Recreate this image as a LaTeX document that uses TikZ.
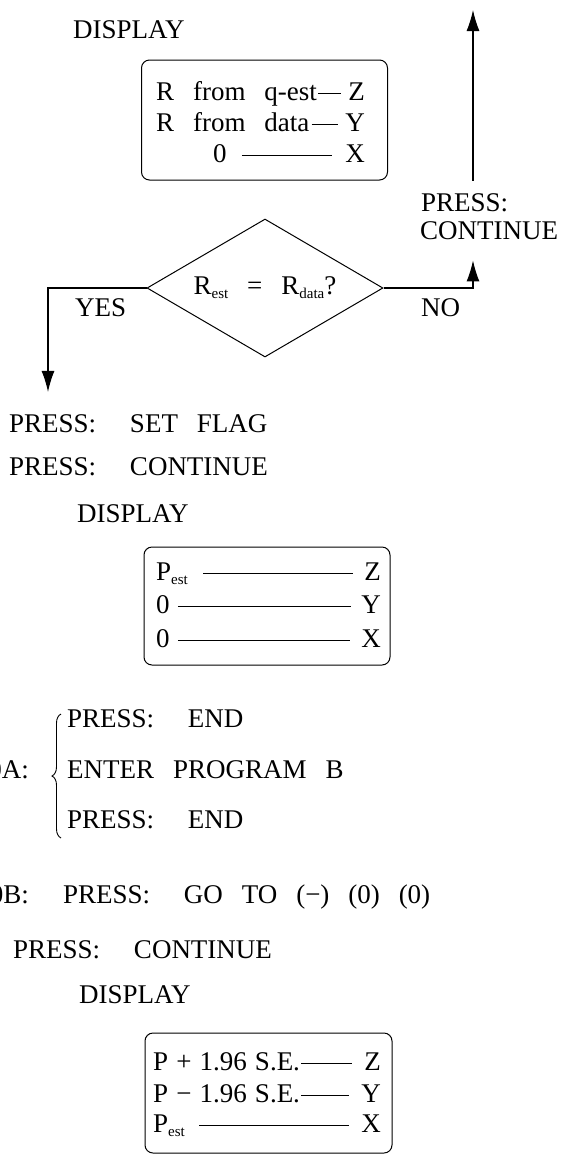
\documentclass[tikz,border=0pt]{standalone}
\usepackage{fontspec}
\setmainfont[WordSpace=2.8]{Liberation Serif}
\usetikzlibrary{arrows.meta, shapes.geometric, calc, decorations.pathreplacing}

\newcommand{\subtxt}[1]{\raisebox{-4pt}{\fontsize{15}{15}\selectfont #1}}
\newcommand{\pgap}{\hspace{1.25em}}
\newcommand{\tsp}{\hspace{0.3em}}

\begin{document}
\begin{tikzpicture}[
    x=1pt, y=-1pt,
    every node/.style={font=\fontsize{27}{30}\selectfont, inner sep=0pt},
    txt/.style={anchor=base west},
    rtxt/.style={anchor=base east},
    panel/.style={draw, rounded corners=8pt, line width=1pt, minimum width=246pt, minimum height=120pt},
    decision/.style={draw, diamond, aspect=1.7, minimum width=236pt, minimum height=138pt, line width=1pt},
    arrow/.style={-{Latex[length=21pt, width=13pt]}, line width=1.1pt},
    leader/.style={line width=0.9pt}
]
\useasboundingbox (0,0) rectangle (571,1163);
\clip (0,0) rectangle (571,1163);

% first display
\node[txt] (dsp1) at (73,38) {DISPLAY};
\node[panel] (box1) at (264.5,120) {};
\node[txt] (b1za) at (156,100) {R from q-est};
\node[rtxt] (b1zb) at (365,100) {Z};
\node[txt] (b1ya) at (156,131) {R from data};
\node[rtxt] (b1yb) at (365,131) {Y};
\node[txt] (b1xa) at (213,162) {0};
\node[rtxt] (b1xb) at (365,162) {X};
\draw[leader] ([shift={(1,-7)}]b1za.base east) -- ([shift={(-7,-7)}]b1zb.base west);
\draw[leader] ([shift={(2,-7)}]b1ya.base east) -- ([shift={(-7,-7)}]b1yb.base west);
\draw[leader] ([shift={(15,-7)}]b1xa.base east) -- ([shift={(-13,-7)}]b1xb.base west);

% decision
\node[decision] (dec) at (265,288) {R\subtxt{est} = R\subtxt{data}?};
\node[txt] (yes) at (75,316) {YES};
\node[txt] (no) at (421,316) {NO};
\node[txt] (pr1) at (421,211) {PRESS:};
\node[txt] (co1) at (420,239) {CONTINUE};
\coordinate (uptip) at (473,10);
\coordinate (yesx) at (48,288);
\draw[arrow] ($(pr1.north -| uptip)+(0,-12)$) -- (uptip);
\draw[arrow] (dec.east) -| ($(co1.south -| uptip)+(0,21)$);

% yes branch
\node[txt] (pf) at (9,432) {PRESS:\pgap SET FLAG};
\node[txt] (pc) at (9,475) {PRESS:\pgap CONTINUE};
\draw[arrow] (dec.west) -| ($(pf.north -| yesx)+(0,-22)$);

% second display
\node[txt] (dsp2) at (77,522) {DISPLAY};
\node[panel, minimum height=118pt] (box2) at (267,606) {};
\node[txt] (b2za) at (156,580) {P\subtxt{est}};
\node[rtxt] (b2zb) at (381,580) {Z};
\node[txt] (b2ya) at (156,613) {0};
\node[rtxt] (b2yb) at (381,613) {Y};
\node[txt] (b2xa) at (156,647) {0};
\node[rtxt] (b2xb) at (381,647) {X};
\draw[leader] ([shift={(15,-7)}]b2za.base east) -- ([shift={(-11,-7)}]b2zb.base west);
\draw[leader] ([shift={(8,-7)}]b2ya.base east) -- ([shift={(-10,-7)}]b2yb.base west);
\draw[leader] ([shift={(8,-7)}]b2xa.base east) -- ([shift={(-11,-7)}]b2xb.base west);

% program switch
\node[rtxt] (lblA) at (29,778) {0A:};
\draw[line width=0.9pt, decorate, decoration={brace, amplitude=9pt}] (61,838) -- (61,714);
\node[txt] (endA) at (67,727) {PRESS:\pgap END};
\node[txt] (entB) at (67,778) {ENTER PROGRAM B};
\node[txt] (endB) at (67,828) {PRESS:\pgap END};
\node[rtxt] (lblB) at (29,903) {0B:};
\node[txt] (goto) at (63,903) {PRESS:\pgap GO TO (−) (0) (0)};
\node[txt] (pc3) at (13,958) {PRESS:\pgap CONTINUE};

% third display
\node[txt] (dsp3) at (79,1003) {DISPLAY};
\node[panel, minimum width=247pt] (box3) at (268.5,1093) {};
\node[txt] (b3za) at (153,1070) {P\tsp+\tsp1.96\tsp S.E.};
\node[rtxt] (b3zb) at (381,1070) {Z};
\node[txt] (b3ya) at (153,1102) {P\tsp−\tsp1.96\tsp S.E.};
\node[rtxt] (b3yb) at (381,1102) {Y};
\node[txt] (b3xa) at (153,1132) {P\subtxt{est}};
\node[rtxt] (b3xb) at (381,1132) {X};
\draw[leader] ([shift={(1,-7)}]b3za.base east) -- ([shift={(-12,-7)}]b3zb.base west);
\draw[leader] ([shift={(1,-7)}]b3ya.base east) -- ([shift={(-12,-7)}]b3yb.base west);
\draw[leader] ([shift={(14,-7)}]b3xa.base east) -- ([shift={(-12,-7)}]b3xb.base west);
\end{tikzpicture}
\end{document}
